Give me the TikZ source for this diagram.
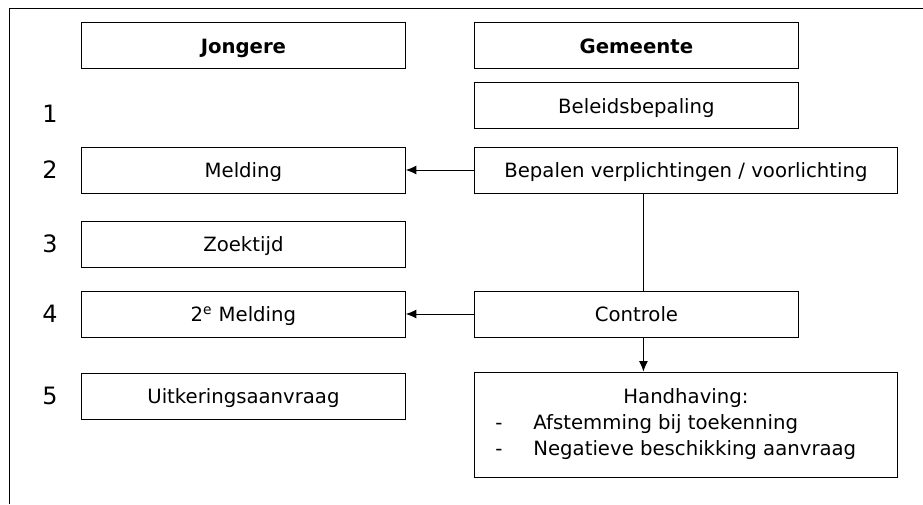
\documentclass[tikz,border=0pt]{standalone}
\usepackage{fontspec}
\setmainfont{DejaVu Sans}
\usetikzlibrary{arrows.meta}
\begin{document}
\begin{tikzpicture}[
  vak/.style={rectangle, draw, semithick, anchor=west, minimum width=8.1cm, minimum height=1.15cm, inner sep=0pt, text height=2.5ex, text depth=0.5ex, font=\fontsize{14}{18.4}\selectfont},
  breed/.style={vak, minimum width=10.575cm},
  nummer/.style={font=\fontsize{17}{20}\selectfont},
  pijl/.style={semithick, -{Latex[length=2.6mm, width=2.2mm]}}
]
  \useasboundingbox (0,0) rectangle (23.075,12.6);
  \draw[semithick] (0.225,0) -- (0.225,12.4) -- (23.075,12.4);

  \node[vak] (jongere) at (2.025, 11.4625) {\textbf{Jongere}};
  \node[vak] (gemeente) at (11.85, 11.4625) {\textbf{Gemeente}};

  \node[nummer] (n1) at (1.25, 9.7625) {1};
  \node[nummer] (n2) at (1.25, 8.35) {2};
  \node[nummer] (n3) at (1.25, 6.5) {3};
  \node[nummer] (n4) at (1.25, 4.75) {4};
  \node[nummer] (n5) at (1.25, 2.7) {5};

  \node[vak] (beleid) at (11.85, 9.9625) {Beleidsbepaling};
  \node[vak] (melding) at (2.025, 8.35) {Melding};
  \node[breed] (bepalen) at (11.85, 8.35) {Bepalen verplichtingen / voorlichting};
  \node[vak] (zoektijd) at (2.025, 6.5) {Zoektijd};
  \node[vak] (melding2) at (2.025, 4.75) {2\textsuperscript{e} Melding};
  \node[vak] (controle) at (11.85, 4.75) {Controle};
  \node[vak] (aanvraag) at (2.025, 2.7) {Uitkeringsaanvraag};
  \node[breed, minimum height=2.625cm, text height=, text depth=] (handhaving) at (11.85, 1.9875) {%
    \begin{tabular}{@{}p{0.95cm}@{}p{8.575cm}@{}}
      \multicolumn{2}{c}{Handhaving:}\\
      - & Afstemming bij toekenning\\
      - & Negatieve beschikking aanvraag
    \end{tabular}};

  \draw[pijl] (bepalen) -- (melding);
  \draw[semithick] ([xshift=0.175cm]bepalen.south -| controle.north) -- ([xshift=0.175cm]controle.north);
  \draw[pijl] (controle) -- (melding2);
  \draw[pijl] ([xshift=0.175cm]controle.south) -- ([xshift=0.175cm]controle.south |- handhaving.north);
\end{tikzpicture}
\end{document}
